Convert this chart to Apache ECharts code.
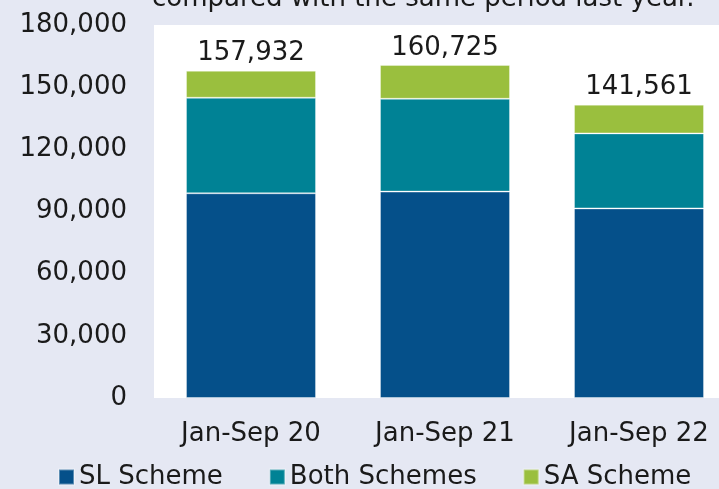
<!DOCTYPE html>
<html>
<head>
<meta charset="utf-8">
<script src="https://cdn.jsdelivr.net/npm/echarts@6/dist/echarts.min.js"></script>
<style>
html,body{margin:0;padding:0;background:#e5e8f3;overflow:hidden;width:719px;height:489px;}
#c{width:740px;height:489px;}
</style>
</head>
<body>
<div id="c"></div>
<script>
const categories = ['Jan-Sep 20', 'Jan-Sep 21', 'Jan-Sep 22'];
const slScheme = [98800, 99600, 91500];
const bothSchemes = [46100, 44800, 36200];
const saScheme = [13032, 16325, 13861];
const totals = [157932, 160725, 141561];
const yTicks = [0, 30000, 60000, 90000, 120000, 150000, 180000];
const titleText = 'compared with the same period last year.';

const FONT = '"DejaVu Sans", Verdana, sans-serif';
const FS = 26;
const fmt = v => v.toLocaleString('en-US');
const chart = echarts.init(document.getElementById('c'));
const border = { borderColor: 'rgba(255,255,255,0.35)', borderWidth: 1 };
chart.setOption({
  backgroundColor: '#e5e8f3',
  animation: false,
  textStyle: { fontFamily: FONT },
  graphic: [{
    type: 'text', left: 152, top: -14,
    style: { text: titleText, font: FS + 'px ' + FONT, fill: '#1a1a1a' }
  }],
  legend: {
    left: 53, top: 459,
    itemWidth: 15, itemHeight: 15, itemGap: 46,
    icon: 'rect',
    textStyle: { fontSize: FS, color: '#1a1a1a', fontFamily: FONT },
    data: ['SL Scheme', 'Both Schemes', 'SA Scheme']
  },
  grid: {
    left: 154, top: 25, right: 4, bottom: 91,
    show: true, backgroundColor: '#ffffff', borderWidth: 0
  },
  xAxis: {
    type: 'category', data: categories,
    axisLine: { show: false }, axisTick: { show: false },
    axisLabel: { fontSize: FS, color: '#1a1a1a', margin: 23, fontFamily: FONT }
  },
  yAxis: {
    type: 'value', min: yTicks[0], max: yTicks[yTicks.length - 1], interval: yTicks[1] - yTicks[0],
    splitLine: { show: false }, axisLine: { show: false }, axisTick: { show: false },
    axisLabel: { fontSize: FS, color: '#1a1a1a', margin: 27, fontFamily: FONT, formatter: v => fmt(v) }
  },
  series: [
    { name: 'SL Scheme', type: 'bar', stack: 't', barWidth: 130, data: slScheme,
      itemStyle: Object.assign({ color: '#05508a' }, border) },
    { name: 'Both Schemes', type: 'bar', stack: 't', data: bothSchemes,
      itemStyle: Object.assign({ color: '#008295' }, border) },
    { name: 'SA Scheme', type: 'bar', stack: 't', data: saScheme,
      itemStyle: Object.assign({ color: '#9abf3e' }, border),
      label: { show: true, position: 'top', distance: 4, fontSize: FS, color: '#1a1a1a', fontFamily: FONT,
        formatter: p => fmt(totals[p.dataIndex]) } }
  ]
});
</script>
</body>
</html>
